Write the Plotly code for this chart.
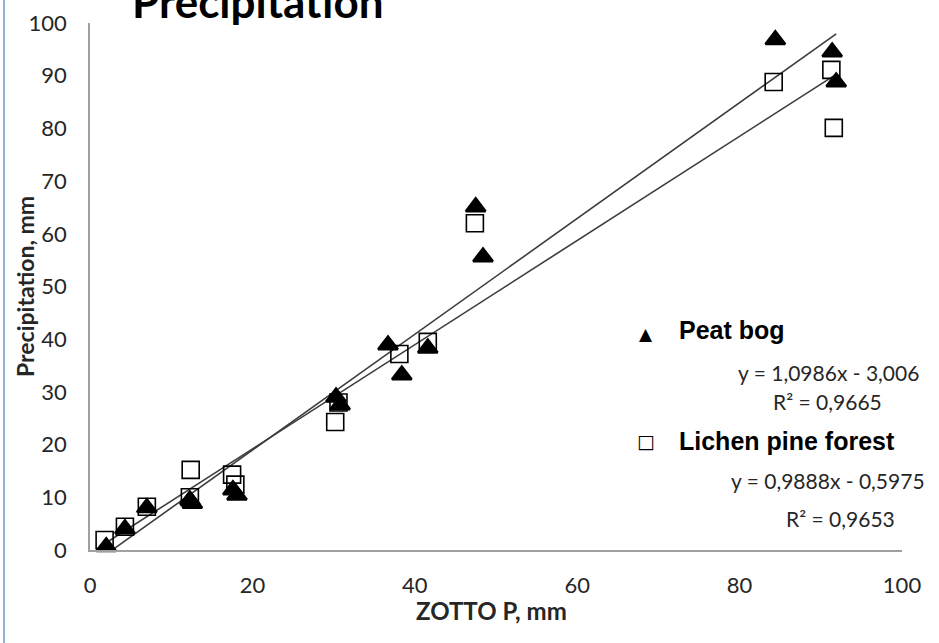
import plotly.graph_objects as go

# ---- data ----
peat_x = [2.0, 4.3, 7.0, 12.3, 12.6, 17.6, 18.1, 30.3, 30.8, 36.7, 38.4, 41.6, 47.5, 48.4, 84.4, 91.4, 91.9]
peat_y = [0.6, 4.0, 8.0, 9.5, 8.8, 11.4, 10.4, 29.0, 27.5, 38.9, 33.2, 38.3, 65.1, 55.6, 96.8, 94.5, 88.8]
lichen_x = [1.8, 4.3, 7.0, 12.3, 12.4, 17.5, 17.9, 30.2, 30.6, 38.1, 41.6, 47.4, 84.2, 91.3, 91.6]
lichen_y = [1.9, 4.4, 8.2, 10.0, 15.2, 14.3, 12.4, 24.3, 28.0, 37.2, 39.5, 62.0, 88.8, 91.1, 80.1]

series_names = ["Peat bog", "Lichen pine forest"]
slopes = [1.0986, 0.9888]
intercepts = [-3.006, -0.5975]
r2_values = ["0,9665", "0,9653"]
eq_texts = ["y = 1,0986x - 3,006", "y = 0,9888x - 0,5975"]

x_ticks = [0, 20, 40, 60, 80, 100]
y_ticks = [0, 10, 20, 30, 40, 50, 60, 70, 80, 90, 100]

W, H = 939, 643
ML, MR, MT, MB = 90, 37, 23, 93
PW = W - ML - MR
PH = H - MT - MB


def px(x):
    return (x - ML) / PW


def py(y):
    return (H - MB - y) / PH


fig = go.Figure()

line_color = "#3c3c3c"
for xs, s, b in [(peat_x, slopes[0], intercepts[0]), (lichen_x, slopes[1], intercepts[1])]:
    x0, x1 = min(xs), max(xs)
    fig.add_trace(go.Scatter(x=[x0, x1], y=[s * x0 + b, s * x1 + b], mode="lines",
                             line=dict(color=line_color, width=1.6), showlegend=False,
                             hoverinfo="skip"))

fig.add_trace(go.Scatter(x=lichen_x, y=lichen_y, mode="markers", name=series_names[1],
                         marker=dict(symbol="square-open", size=17, color="black",
                                     line=dict(width=1.6, color="black")),
                         cliponaxis=False, showlegend=False))
fig.add_trace(go.Scatter(x=peat_x, y=peat_y, mode="markers", name=series_names[0],
                         marker=dict(symbol="triangle-up", size=17, color="black",
                                     line=dict(width=2.5, color="black")),
                         cliponaxis=False, showlegend=False))

tick_font = dict(family="Lato", size=22, color="#262626")

fig.update_xaxes(range=[0, 100], tickvals=x_ticks, showgrid=False, zeroline=False,
                 showline=True, linecolor="#a0a0a0", linewidth=1.5, ticks="",
                 tickfont=tick_font, ticklabelstandoff=15)
fig.update_yaxes(range=[0, 100], tickvals=y_ticks, showgrid=False, zeroline=False,
                 showline=True, linecolor="#a0a0a0", linewidth=1.5, ticks="",
                 tickfont=tick_font, ticklabelstandoff=17)

ann = []
# title (cut at top as in reference)
ann.append(dict(text="<b>Precipitation</b>", x=px(258), y=py(1), xref="paper", yref="paper",
                showarrow=False, font=dict(family="Lato", size=44, color="black"),
                xanchor="center", yanchor="middle"))
# axis titles
ann.append(dict(text="<b>ZOTTO P, mm</b>", x=px(491), y=py(610), xref="paper", yref="paper",
                showarrow=False, font=dict(family="Lato", size=24, color="#262626"),
                xanchor="center", yanchor="middle"))
ann.append(dict(text="<b>Precipitation, mm</b>", x=px(25), y=py(287), xref="paper", yref="paper",
                showarrow=False, textangle=-90, font=dict(family="Lato", size=23, color="#262626"),
                xanchor="center", yanchor="middle"))
# legend
legend_font = dict(family="Liberation Sans", size=25, color="black")
eq_font = dict(family="Lato", size=21, color="#262626")
ann.append(dict(text="▲", x=px(646), y=py(334), xref="paper", yref="paper", showarrow=False,
                font=dict(family="DejaVu Sans", size=17, color="black"), xanchor="center", yanchor="middle"))
ann.append(dict(text="<b>" + series_names[0] + "</b>", x=px(677), y=py(330), xref="paper", yref="paper",
                showarrow=False, font=legend_font, xanchor="left", yanchor="middle"))
ann.append(dict(text=eq_texts[0], x=px(828), y=py(372), xref="paper", yref="paper",
                showarrow=False, font=eq_font, xanchor="center", yanchor="middle"))
ann.append(dict(text="R² = " + r2_values[0], x=px(827), y=py(401), xref="paper", yref="paper",
                showarrow=False, font=eq_font, xanchor="center", yanchor="middle"))
ann.append(dict(text="□", x=px(646), y=py(441), xref="paper", yref="paper", showarrow=False,
                font=dict(family="DejaVu Sans", size=19, color="black"), xanchor="center", yanchor="middle"))
ann.append(dict(text="<b>" + series_names[1] + "</b>", x=px(677), y=py(441), xref="paper", yref="paper",
                showarrow=False, font=legend_font, xanchor="left", yanchor="middle"))
ann.append(dict(text=eq_texts[1], x=px(828), y=py(480), xref="paper", yref="paper",
                showarrow=False, font=eq_font, xanchor="center", yanchor="middle"))
ann.append(dict(text="R² = " + r2_values[1], x=px(840), y=py(518), xref="paper", yref="paper",
                showarrow=False, font=eq_font, xanchor="center", yanchor="middle"))

shapes = [dict(type="line", xref="paper", yref="paper", x0=px(4), x1=px(4), y0=py(H), y1=py(0),
               line=dict(color="#8fb3d6", width=2))]

fig.update_layout(width=W, height=H, margin=dict(l=ML, r=MR, t=MT, b=MB, autoexpand=False),
                  paper_bgcolor="white", plot_bgcolor="white", annotations=ann, shapes=shapes,
                  showlegend=False)

fig.write_html("out.html")
